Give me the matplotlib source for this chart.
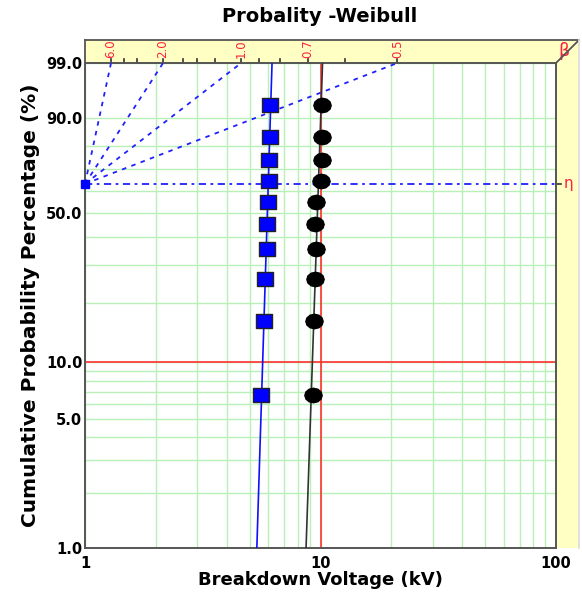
import numpy as np
import matplotlib
matplotlib.use('Agg')
import matplotlib.pyplot as plt
from matplotlib.patches import Polygon
from matplotlib.lines import Line2D
from matplotlib.path import Path

plt.rcParams['font.family'] = ['DejaVu Sans']

# cumulative probability (%) of each ranked point
prob_pct = [6.7, 16.3, 25.9, 35.6, 45.2, 54.8, 64.4, 74.0, 83.7, 93.3]
# breakdown voltages (kV)
blue_kv = [5.59, 5.77, 5.81, 5.90, 5.91, 5.99, 6.04, 6.06, 6.10, 6.10]
black_kv = [9.32, 9.41, 9.48, 9.54, 9.50, 9.57, 10.02, 10.12, 10.18, 10.12]
# fitted weibull lines (beta, eta)
blue_fit = (41.2, 6.0)
black_fit = (38.0, 9.8)

beta_ticks = [6.0, 4.0, 3.0, 2.0, 1.6, 1.4, 1.2, 1.0, 0.9, 0.8, 0.7, 0.6, 0.5]
beta_labels = [6.0, 2.0, 1.0, 0.7, 0.5]
beta_lines = [6.0, 2.0, 1.0, 0.5]
y_labels = [1.0, 5.0, 10.0, 50.0, 90.0, 99.0]
y_minor = [2, 3, 4, 6, 7, 8, 9, 20, 30, 40, 60, 70, 80]
x_labels = [1, 10, 100]
eta_pct = 63.21


def weib(p):
    p = np.clip(np.asarray(p, float), 1e-9, 100 - 1e-9)
    return np.log(-np.log(1 - p / 100))


def weib_inv(w):
    return 100 * (1 - np.exp(-np.exp(w)))


W, H = 582, 600
fig = plt.figure(figsize=(W / 100, H / 100), dpi=100)
L, R, T, B = 85, 556, 63, 548
ax = fig.add_axes([L / W, 1 - B / H, (R - L) / W, (B - T) / H])


def px(x, y):
    return (x / W, 1 - y / H)


# yellow beta / eta strips
strip = Polygon([px(L, 40), px(579, 40), px(579, B), px(R, B), px(R, T), px(L, T)],
                closed=True, transform=fig.transFigure, facecolor='#ffffc4',
                edgecolor='none', zorder=0)
fig.add_artist(strip)
for (x0, y0), (x1, y1), c in [((L, 40), (579, 40), '#555555'),
                              ((L, 40), (L, T), '#555555'),
                              ((R, T), (579, 40), '#555555'),
                              ((579, 40), (579, B), '#dddddd')]:
    a, b = px(x0, y0), px(x1, y1)
    fig.add_artist(Line2D([a[0], b[0]], [a[1], b[1]], transform=fig.transFigure,
                          color=c, lw=1.3))

ax.set_xscale('log')
ax.set_yscale('function', functions=(weib, weib_inv))
ax.set_xlim(1, 100)
ax.set_ylim(1, 99)

ax.set_yticks(y_labels)
ax.set_yticklabels([f'{v:.1f}' for v in y_labels])
ax.set_yticks(y_minor, minor=True)
ax.set_yticklabels([], minor=True)
ax.set_xticks(x_labels)
ax.set_xticklabels([str(v) for v in x_labels])
ax.grid(True, which='both', color='#b8f0b8', lw=1.0, zorder=0)
ax.tick_params(which='both', length=0)
ax.tick_params(axis='x', pad=6, labelsize=10.5)
ax.tick_params(axis='y', pad=2, labelsize=10.5)
for lab in ax.get_xticklabels() + ax.get_yticklabels():
    lab.set_fontweight('bold')
for s in ax.spines.values():
    s.set_color('#555555')
    s.set_linewidth(1.4)

# reference lines
ax.axvline(10, color='#ff3030', lw=1.2, zorder=2)
ax.axhline(10, color='#ff3030', lw=1.2, zorder=2)

# beta nomograph
top_w = weib(99)
for b in beta_lines:
    ax.plot([1, np.exp(top_w / b)], [eta_pct, 99], color='#2020ff', lw=1.3,
            ls=(0, (2.5, 3)), zorder=3)
ax.plot([1, 100], [eta_pct, eta_pct], color='#2020ff', lw=1.3,
        ls=(0, (4, 2.5, 1.5, 2.5)), zorder=3)
ax.plot([1], [eta_pct], marker='s', ms=6, color='#0000ff', clip_on=False, zorder=6)
xtr = ax.get_xaxis_transform()
for b in beta_ticks:
    xb = np.exp(top_w / b)
    ax.plot([xb, xb], [1, 1 + 4 / (B - T)], transform=xtr, color='#333333',
            lw=1.2, clip_on=False)
for b in beta_labels:
    ax.text(np.exp(top_w / b), 1 + 5 / (B - T), f'{b:.1f}', transform=xtr,
            rotation=90, ha='center', va='bottom', color='#ff2040', fontsize=8.5)
ytr = ax.get_yaxis_transform()
ax.text(1 + 2 / (R - L), 1 + 12 / (B - T), 'β', transform=ax.transAxes,
        color='#ff2040', fontsize=12.5, ha='left', va='center')
ax.plot([1, 1 + 5 / (R - L)], [eta_pct, eta_pct], transform=ytr,
        color='#333333', lw=1.2, clip_on=False)
ax.text(1 + 8 / (R - L), eta_pct, 'η', transform=ytr, color='#ff2040',
        fontsize=11, ha='left', va='center')

# fitted lines
for (beta, eta), c in [(blue_fit, '#1010ff'), (black_fit, '#333333')]:
    xs = [eta * (-np.log(1 - p / 100)) ** (1 / beta) for p in (1, 99)]
    ax.plot(xs, [1, 99], color=c, lw=1.2, zorder=4)

rect = Path([(-1.2, -1), (1.2, -1), (1.2, 1), (-1.2, 1), (-1.2, -1)], closed=True)
t = np.linspace(0, 2 * np.pi, 13)
ell = Path(np.column_stack([1.2 * np.cos(t), np.sin(t)]), closed=True)
ax.plot(blue_kv, prob_pct, ls='none', marker=rect, ms=12, mfc='#0000ff',
        mec='#222222', mew=1.0, zorder=5)
ax.plot(black_kv, prob_pct, ls='none', marker=ell, ms=12.5, mfc='black',
        mec='black', zorder=5)

fig.text(px(320, 0)[0], 1 - 17 / H, 'Probality -Weibull', ha='center', va='center',
         fontsize=14, fontweight='bold')
ax.set_xlabel('Breakdown Voltage (kV)', fontsize=13, fontweight='bold', labelpad=0)
ax.set_ylabel('Cumulative Probability Percentage (%)', fontsize=14.5,
              fontweight='bold', labelpad=4)

fig.savefig('out.png', dpi=100)
